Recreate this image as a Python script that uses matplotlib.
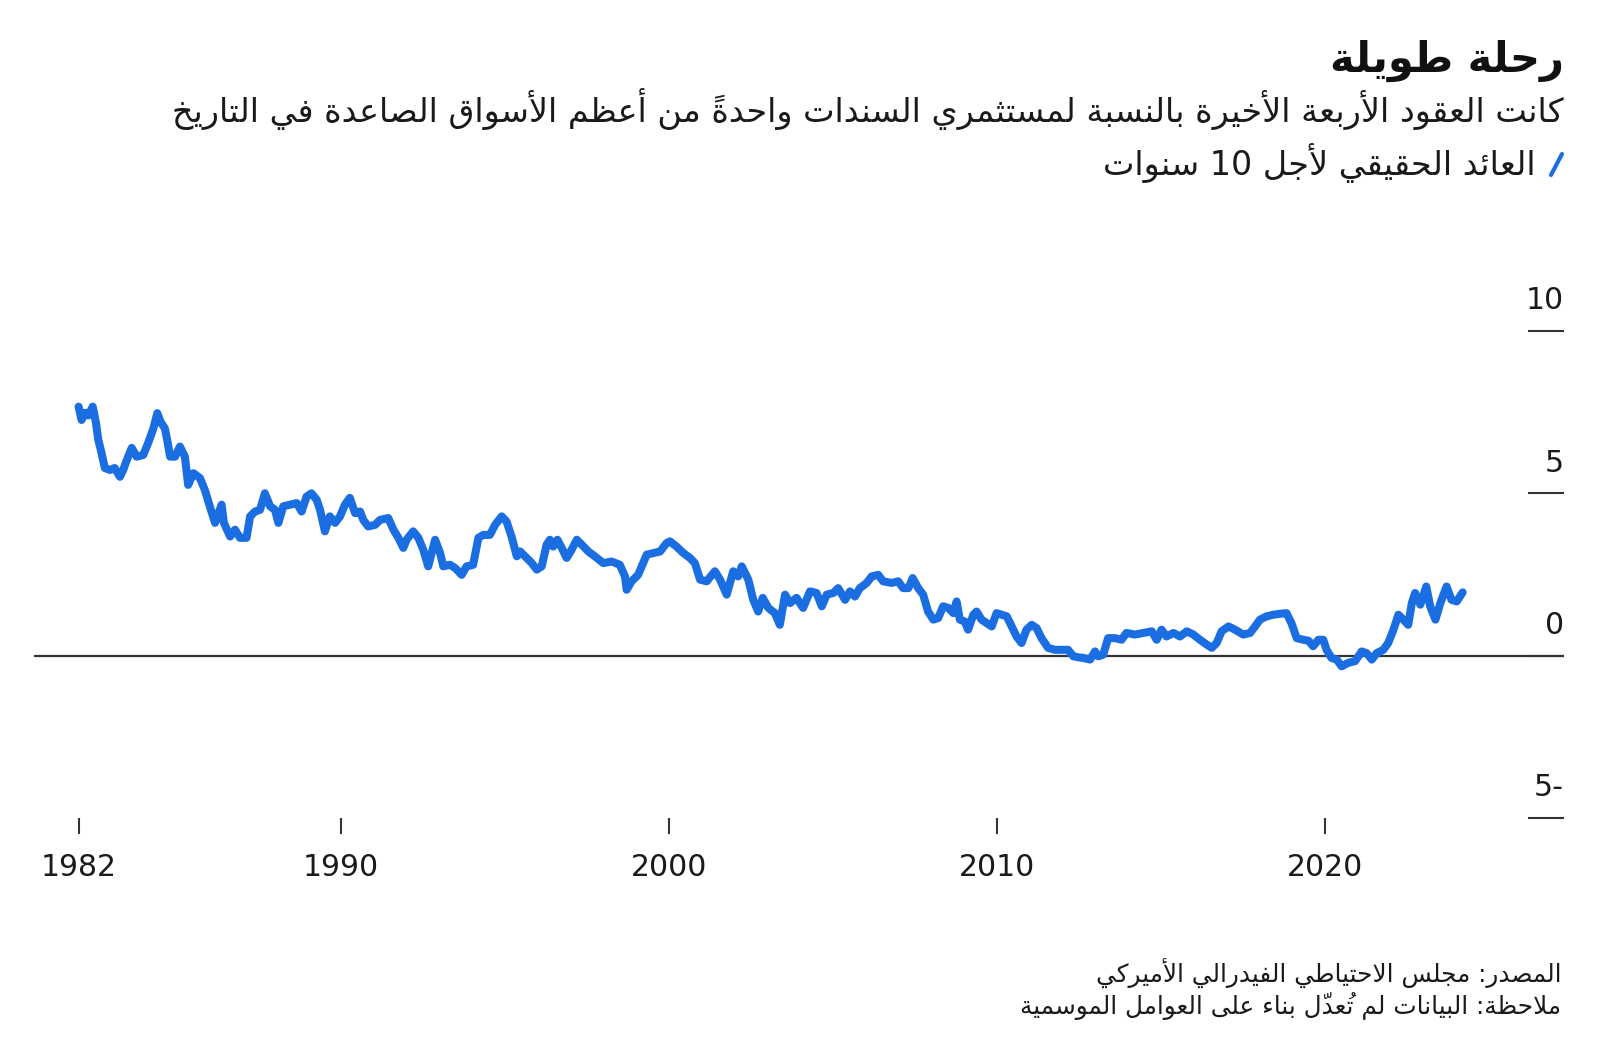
import matplotlib
matplotlib.use("Agg")
import matplotlib.pyplot as plt
import matplotlib.transforms as mtransforms
from matplotlib.lines import Line2D

# ---- data ----
years = [1982.0, 1982.09, 1982.2, 1982.3, 1982.43, 1982.53, 1982.6, 1982.7, 1982.8, 1982.96,
         1983.1, 1983.26, 1983.36, 1983.47, 1983.62, 1983.77, 1983.97, 1984.12, 1984.28, 1984.4,
         1984.5, 1984.63, 1984.7, 1984.79, 1984.94, 1985.09, 1985.24, 1985.34, 1985.5, 1985.7,
         1985.85, 1986.0, 1986.16, 1986.36, 1986.43, 1986.62, 1986.77, 1986.92, 1987.12, 1987.23,
         1987.38, 1987.53, 1987.68, 1987.84, 1987.99, 1988.09, 1988.24, 1988.45, 1988.65, 1988.8,
         1988.95, 1989.1, 1989.26, 1989.36, 1989.51, 1989.66, 1989.82, 1989.97, 1990.12, 1990.27,
         1990.43, 1990.58, 1990.68, 1990.83, 1991.04, 1991.19, 1991.44, 1991.6, 1991.75, 1991.9,
         1992.0, 1992.2, 1992.36, 1992.51, 1992.66, 1992.87, 1993.02, 1993.12, 1993.32, 1993.48,
         1993.68, 1993.83, 1994.03, 1994.19, 1994.34, 1994.54, 1994.7, 1994.9, 1995.05, 1995.2,
         1995.36, 1995.46, 1995.61, 1995.81, 1995.97, 1996.12, 1996.27, 1996.37, 1996.47, 1996.6,
         1996.73, 1996.88, 1997.03, 1997.19, 1997.34, 1997.54, 1997.74, 1998.0, 1998.25, 1998.5,
         1998.66, 1998.71, 1998.86, 1999.06, 1999.17, 1999.32, 1999.52, 1999.73, 1999.93, 2000.03,
         2000.23, 2000.44, 2000.64, 2000.79, 2000.95, 2001.15, 2001.4, 2001.56, 2001.76, 2001.96,
         2002.11, 2002.22, 2002.42, 2002.57, 2002.72, 2002.86, 2003.03, 2003.23, 2003.38, 2003.54,
         2003.69, 2003.89, 2004.09, 2004.3, 2004.5, 2004.66, 2004.81, 2005.01, 2005.16, 2005.37,
         2005.52, 2005.67, 2005.82, 2006.03, 2006.18, 2006.38, 2006.53, 2006.79, 2006.99, 2007.14,
         2007.3, 2007.43, 2007.6, 2007.75, 2007.9, 2008.06, 2008.21, 2008.36, 2008.52, 2008.67,
         2008.77, 2008.87, 2009.02, 2009.12, 2009.28, 2009.38, 2009.53, 2009.69, 2009.84, 2009.99,
         2010.14, 2010.3, 2010.45, 2010.6, 2010.75, 2010.9, 2011.06, 2011.21, 2011.36, 2011.56,
         2011.77, 2011.97, 2012.17, 2012.33, 2012.48, 2012.63, 2012.84, 2012.99, 2013.09, 2013.24,
         2013.39, 2013.6, 2013.8, 2013.95, 2014.21, 2014.46, 2014.72, 2014.87, 2015.02, 2015.17,
         2015.38, 2015.58, 2015.79, 2015.99, 2016.19, 2016.4, 2016.55, 2016.7, 2016.85, 2017.06,
         2017.26, 2017.51, 2017.72, 2017.87, 2018.02, 2018.22, 2018.42, 2018.63, 2018.83, 2018.98,
         2019.14, 2019.34, 2019.5, 2019.64, 2019.8, 2019.95, 2020.05, 2020.2, 2020.36, 2020.51,
         2020.71, 2020.92, 2021.12, 2021.27, 2021.43, 2021.58, 2021.78, 2021.93, 2022.09, 2022.24,
         2022.39, 2022.54, 2022.65, 2022.75, 2022.91, 2023.09, 2023.21, 2023.37, 2023.52, 2023.71,
         2023.86, 2024.02, 2024.2]
real_yield = [7.67, 7.26, 7.48, 7.40, 7.67, 7.17, 6.65, 6.24, 5.78, 5.72,
              5.78, 5.51, 5.72, 6.03, 6.40, 6.13, 6.18, 6.55, 7.00, 7.47,
              7.20, 7.00, 6.65, 6.13, 6.13, 6.44, 6.13, 5.26, 5.62, 5.47,
              5.10, 4.60, 4.09, 4.65, 4.09, 3.67, 3.88, 3.63, 3.63, 4.29,
              4.44, 4.49, 5.00, 4.60, 4.49, 4.09, 4.60, 4.65, 4.70, 4.44,
              4.90, 5.00, 4.80, 4.50, 3.83, 4.29, 4.09, 4.29, 4.65, 4.86,
              4.39, 4.44, 4.18, 3.98, 4.03, 4.18, 4.24, 3.88, 3.63, 3.32,
              3.57, 3.83, 3.63, 3.26, 2.75, 3.57, 3.17, 2.75, 2.80, 2.70,
              2.49, 2.75, 2.80, 3.63, 3.72, 3.72, 4.03, 4.29, 4.13, 3.67,
              3.06, 3.21, 3.06, 2.86, 2.65, 2.75, 3.42, 3.57, 3.36, 3.57,
              3.32, 3.01, 3.26, 3.57, 3.42, 3.21, 3.06, 2.85, 2.90, 2.80,
              2.44, 2.03, 2.29, 2.49, 2.75, 3.11, 3.16, 3.21, 3.47, 3.52,
              3.36, 3.16, 3.01, 2.85, 2.34, 2.29, 2.60, 2.34, 1.88, 2.60,
              2.44, 2.75, 2.34, 1.72, 1.36, 1.78, 1.47, 1.31, 0.95, 1.88,
              1.62, 1.78, 1.47, 1.98, 1.93, 1.52, 1.88, 1.93, 2.08, 1.72,
              1.98, 1.82, 2.08, 2.24, 2.44, 2.49, 2.29, 2.24, 2.29, 2.08,
              2.08, 2.39, 2.08, 1.88, 1.36, 1.11, 1.16, 1.52, 1.47, 1.31,
              1.67, 1.11, 1.05, 0.80, 1.26, 1.36, 1.11, 1.00, 0.90, 1.31,
              1.26, 1.21, 0.90, 0.59, 0.39, 0.80, 0.95, 0.85, 0.54, 0.24,
              0.18, 0.18, 0.18, -0.02, -0.05, -0.07, -0.12, 0.13, -0.02, 0.03,
              0.54, 0.54, 0.49, 0.70, 0.65, 0.70, 0.75, 0.49, 0.80, 0.59,
              0.70, 0.59, 0.75, 0.65, 0.49, 0.34, 0.24, 0.39, 0.75, 0.90,
              0.80, 0.65, 0.70, 0.90, 1.11, 1.21, 1.26, 1.29, 1.31, 1.00,
              0.54, 0.49, 0.46, 0.29, 0.49, 0.49, 0.18, -0.07, -0.12, -0.33,
              -0.22, -0.17, 0.13, 0.08, -0.12, 0.08, 0.18, 0.39, 0.80, 1.26,
              1.11, 0.95, 1.62, 1.93, 1.57, 2.13, 1.52, 1.11, 1.62, 2.13,
              1.72, 1.67, 1.95]

xticks = [1982, 1990, 2000, 2010, 2020]
yticks = [-5, 0, 5, 10]
ytick_text = ['-5', '0', '5', '10']

title = 'رحلة طويلة'
subtitle = 'كانت العقود الأربعة الأخيرة بالنسبة لمستثمري السندات واحدةً من أعظم الأسواق الصاعدة في التاريخ'
series_name = 'العائد الحقيقي لأجل 10 سنوات'
source = 'المصدر: مجلس الاحتياطي الفيدرالي الأميركي'
note = 'ملاحظة: البيانات لم تُعدّل بناء على العوامل الموسمية'

BLUE = '#1a6ee2'
INK = '#1a1a1a'
GREY = '#333333'

# ---- minimal Arabic shaping (matplotlib draws glyphs left to right, unshaped) ----
# letter -> (isolated presentation form, joining type: 0 none, 1 right only, 2 both)
_letters = [('ء', 0xFE80, 0), ('آ', 0xFE81, 1), ('أ', 0xFE83, 1), ('ؤ', 0xFE85, 1),
            ('إ', 0xFE87, 1), ('ئ', 0xFE89, 2), ('ا', 0xFE8D, 1), ('ب', 0xFE8F, 2),
            ('ة', 0xFE93, 1), ('ت', 0xFE95, 2), ('ث', 0xFE99, 2), ('ج', 0xFE9D, 2),
            ('ح', 0xFEA1, 2), ('خ', 0xFEA5, 2), ('د', 0xFEA9, 1), ('ذ', 0xFEAB, 1),
            ('ر', 0xFEAD, 1), ('ز', 0xFEAF, 1), ('س', 0xFEB1, 2), ('ش', 0xFEB5, 2),
            ('ص', 0xFEB9, 2), ('ض', 0xFEBD, 2), ('ط', 0xFEC1, 2), ('ظ', 0xFEC5, 2),
            ('ع', 0xFEC9, 2), ('غ', 0xFECD, 2), ('ف', 0xFED1, 2), ('ق', 0xFED5, 2),
            ('ك', 0xFED9, 2), ('ل', 0xFEDD, 2), ('م', 0xFEE1, 2), ('ن', 0xFEE5, 2),
            ('ه', 0xFEE9, 2), ('و', 0xFEED, 1), ('ى', 0xFEEF, 1), ('ي', 0xFEF1, 2)]
FORMS = {c: (code, t) for c, code, t in _letters}
LAMALEF = {'آ': 0xFEF5, 'أ': 0xFEF7, 'إ': 0xFEF9, 'ا': 0xFEFB}
MARKS = set('\u064b\u064c\u064d\u064e\u064f\u0650\u0651\u0652')


def rtl(text):
    toks = []  # [char, iso code, join type, marks]
    for ch in text:
        if ch in MARKS and toks:
            toks[-1][3] += ch
        elif ch in LAMALEF and toks and toks[-1][0] == 'ل':
            toks[-1] = ['لا', LAMALEF[ch], 1, toks[-1][3]]
        elif ch in FORMS:
            toks.append([ch, FORMS[ch][0], FORMS[ch][1], ''])
        else:
            toks.append([ch, None, 0, ''])
    glyphs = []
    for i, (ch, iso, t, marks) in enumerate(toks):
        if iso is None:
            glyphs.append(ch)
            continue
        prev_j = i > 0 and toks[i - 1][2] == 2
        next_j = t == 2 and i + 1 < len(toks) and toks[i + 1][2] > 0
        if t == 2:
            idx = 3 if (prev_j and next_j) else 1 if prev_j else 2 if next_j else 0
        elif t == 1:
            idx = 1 if prev_j else 0
        else:
            idx = 0
        # DejaVu marks are zero-width and sit to the right of the pen: put them first
        glyphs.append(marks + chr(iso + idx))
    glyphs = glyphs[::-1]
    # digits keep their left-to-right order
    out, run = [], []
    for g in glyphs:
        if g.isdigit():
            run.append(g)
        else:
            out.extend(run[::-1])
            run = []
            out.append(g)
    out.extend(run[::-1])
    return ''.join(out)


plt.rcParams['font.family'] = ['DejaVu Sans']

fig = plt.figure(figsize=(16, 10.38), dpi=100)
ax = fig.add_axes([34 / 1600, 1 - 818 / 1038, 1530 / 1600, 487 / 1038])

ax.axhline(0, color=GREY, lw=1.6, zorder=1)
ax.plot(years, real_yield, color=BLUE, lw=5.8, solid_joinstyle='round',
        solid_capstyle='round', zorder=3)

ax.set_xlim(1980.64, 2027.29)
ax.set_ylim(-5, 10)
for s in ax.spines.values():
    s.set_visible(False)

ax.set_xticks(xticks)
ax.set_xticklabels([str(x) for x in xticks])
ax.tick_params(axis='x', direction='out', length=11.5, width=1.5, color=GREY,
               pad=14, labelsize=21.5, labelcolor=INK)

ax.set_yticks(yticks)
ax.set_yticklabels([rtl(t) for t in ytick_text])
ax.yaxis.tick_right()
ax.tick_params(axis='y', direction='in', length=26, width=1.5, color=GREY,
               pad=0, labelsize=21.5, labelcolor=INK)
lift = mtransforms.ScaledTranslation(0, 24 / 72, fig.dpi_scale_trans)
for lab in ax.get_yticklabels():
    lab.set_horizontalalignment('right')
    lab.set_transform(lab.get_transform() + lift)

# ---- header / footer text ----
xr = 1564 / 1600
fig.text(xr, 1 - 72 / 1038, rtl(title), ha='right', va='baseline',
         fontsize=30, fontweight='bold', color='#111111')
fig.text(xr, 1 - 122 / 1038, rtl(subtitle), ha='right', va='baseline',
         fontsize=24, color=INK)
fig.text(1536 / 1600, 1 - 175 / 1038, rtl(series_name), ha='right', va='baseline',
         fontsize=24, color=INK)
fig.add_artist(Line2D([1551 / 1600, 1562 / 1600], [1 - 175 / 1038, 1 - 154 / 1038],
                      color=BLUE, lw=3, solid_capstyle='round'))
fig.text(1561 / 1600, 1 - 982 / 1038, rtl(source), ha='right', va='baseline',
         fontsize=17.8, color=INK)
fig.text(1561 / 1600, 1 - 1014 / 1038, rtl(note), ha='right', va='baseline',
         fontsize=17.8, color=INK)

fig.savefig('out.png', dpi=100, facecolor='white')
